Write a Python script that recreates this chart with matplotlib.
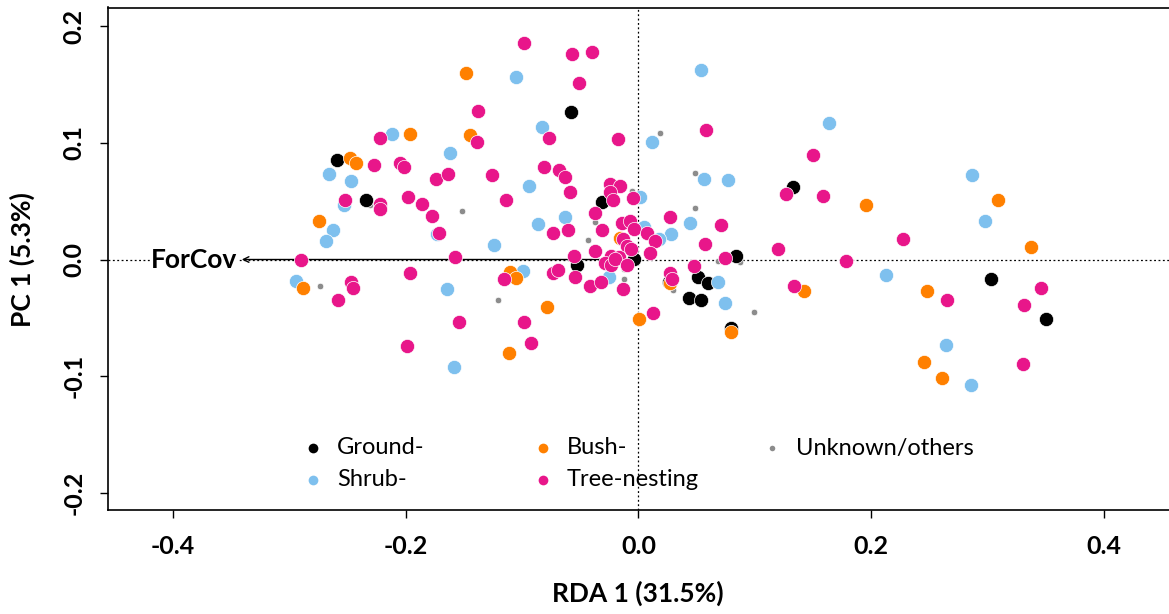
import matplotlib as mpl
mpl.use("Agg")
import matplotlib.pyplot as plt

mpl.rcParams.update({"font.family": ["Lato", "DejaVu Sans"], "font.size": 15})

# site scores on RDA 1 / PC 1, one pair of lists per nesting guild
ground_x = [-0.2595, -0.234, -0.0576, -0.0316, -0.0528, -0.004, 0.0834, 0.1325,
            0.0265, 0.051, 0.06, 0.0433, 0.0536, 0.0798, 0.3028, 0.3507]
ground_y = [0.0857, 0.0506, 0.1266, 0.0497, -0.0046, 0.0006, 0.0026, 0.062,
            -0.0195, -0.0146, -0.02, -0.0326, -0.0343, -0.0585, -0.0166, -0.0511]

shrub_x = [-0.266, -0.247, -0.253, -0.2627, -0.2687, -0.2942, -0.2116, -0.1052, -0.0829,
           -0.1617, -0.0938, 0.0011, -0.1732, -0.0866, -0.0628, -0.1239, 0.0046, -0.0989,
           -0.0252, -0.1649, -0.1583, 0.0533, 0.0112, 0.1634, 0.0562, 0.0771, 0.0441,
           0.0281, 0.0175, 0.0686, 0.074, 0.2127, 0.2865, 0.2982, 0.2647, 0.2859]
shrub_y = [0.0731, 0.0677, 0.047, 0.0251, 0.016, -0.0183, 0.1074, 0.1565, 0.1137,
           0.0917, 0.0628, 0.054, 0.022, 0.0306, 0.0368, 0.0123, 0.0277, -0.01,
           -0.0152, -0.0254, -0.0925, 0.1625, 0.1011, 0.1174, 0.0694, 0.0683, 0.0311,
           0.022, 0.0177, -0.0197, -0.0371, -0.0137, 0.0723, 0.0331, -0.0731, -0.1077]

bush_x = [-0.2477, -0.2426, -0.2744, -0.2882, -0.1482, -0.1967, -0.1445, -0.1107, -0.1049,
          -0.0783, -0.1113, 0.0006, -0.0155, 0.027, 0.0791, 0.1422, 0.1953, 0.2477,
          0.2454, 0.2612, 0.3088, 0.3378]
bush_y = [0.0868, 0.0823, 0.0328, -0.0243, 0.1602, 0.1077, 0.1065, -0.0109, -0.0157,
          -0.0405, -0.0803, -0.0511, 0.0183, -0.0205, -0.0623, -0.0266, 0.0471, -0.0268,
          -0.088, -0.1014, 0.0514, 0.0106]

unknown_x = [-0.231, -0.2735, -0.1514, -0.0052, -0.0375, -0.0436, -0.1204, -0.0126,
             -0.0126, 0.0183, 0.0484, 0.0484, 0.0686, 0.0869, 0.0298, 0.0992]
unknown_y = [0.047, -0.0231, 0.0417, 0.0583, 0.032, 0.0171, -0.0343, -0.008,
             -0.0166, 0.1086, 0.074, 0.0443, -0.0014, -0.0023, -0.026, -0.0451]

tree_x = [-0.2271, -0.222, -0.2526, -0.2225, -0.222, -0.29, -0.2469, -0.2454, -0.2583,
          -0.098, -0.0568, -0.0398, -0.0508, -0.1382, -0.1388, -0.0766, -0.0175, -0.2053,
          -0.2019, -0.174, -0.1637, -0.1259, -0.0809, -0.0686, -0.0634, -0.0585, -0.0246,
          -0.0163, -0.0244, -0.0221, -0.0043, -0.1985, -0.1858, -0.1778, -0.1714, -0.1138,
          -0.0737, -0.0608, -0.0378, -0.0316, -0.0375, -0.1577, -0.0553, -0.014, -0.0075,
          -0.004, -0.0135, -0.0103, -0.0066, -0.0235, -0.0169, 0.0075, -0.1961, -0.1155,
          -0.0731, -0.0688, -0.0545, -0.029, -0.0235, -0.0198, -0.0097, -0.0413, -0.0321,
          -0.0129, -0.1542, -0.0983, -0.0926, -0.1993, 0.0123, 0.0146, 0.0095, 0.0576,
          0.15, 0.127, 0.1585, 0.0269, 0.0711, 0.057, 0.1196, 0.2271, 0.0746, 0.1783,
          0.0476, 0.0272, 0.0284, 0.1333, 0.2655, 0.3461, 0.3312, 0.3306]
tree_y = [0.0808, 0.104, 0.0508, 0.048, 0.0437, 0.0, -0.0194, -0.0246, -0.0343,
          0.1854, 0.1762, 0.1782, 0.1511, 0.1271, 0.1003, 0.104, 0.1031, 0.0831,
          0.0791, 0.0694, 0.0737, 0.0722, 0.0794, 0.0771, 0.0705, 0.058, 0.0645,
          0.0626, 0.0577, 0.0511, 0.0531, 0.0534, 0.048, 0.0374, 0.0231, 0.0514,
          0.0229, 0.0251, 0.0397, 0.0257, 0.0071, 0.002, 0.0034, 0.0317, 0.0331,
          0.0263, 0.0177, 0.012, 0.0092, 0.0034, 0.002, 0.0229, -0.0114, -0.0169,
          -0.0117, -0.0089, -0.0149, -0.0029, -0.0051, 0.0006, -0.0051, -0.0223, -0.0191,
          -0.0257, -0.0534, -0.0534, -0.0717, -0.0743, -0.046, 0.0157, 0.0054, 0.1108,
          0.0894, 0.056, 0.0543, 0.0368, 0.0297, 0.0134, 0.0092, 0.0173, 0.0015, -0.0009,
          -0.0057, -0.0114, -0.0163, -0.0228, -0.0351, -0.0243, -0.0386, -0.0894]

# environmental vector (biplot arrow)
forcov = (-0.341, 0.0)

COL = {"ground": "#000000", "shrub": "#7EC0EE", "bush": "#FF8000",
       "unknown": "#8C8C8C", "tree": "#E8168A"}

fig = plt.figure(figsize=(11.69, 6.14), dpi=100)
ax = fig.add_axes([108 / 1169, 1 - 510 / 614, 1 - 108 / 1169, (510 - 7.5) / 614])
ax.set_xlim(-0.456, 0.456)
ax.set_ylim(-0.2147, 0.216)

ax.axvline(0, color="black", lw=0.9, ls=(0, (1.5, 2)), zorder=1)
ax.axhline(0, color="black", lw=0.9, ls=(0, (1.5, 2)), zorder=1)
ax.annotate("", xy=forcov, xytext=(0, 0),
            arrowprops=dict(arrowstyle="->", lw=1.0, color="black",
                            shrinkA=0, shrinkB=0, mutation_scale=10), zorder=2)
ax.text(forcov[0] - 0.004, forcov[1], "ForCov", ha="right", va="center",
        fontsize=19, fontweight="bold",
        bbox=dict(facecolor="white", edgecolor="none", pad=0.5), zorder=2)

kw = dict(edgecolors="white", linewidths=0.5, zorder=3)
ax.scatter(unknown_x, unknown_y, s=22, c=COL["unknown"], **kw)
ax.scatter(ground_x, ground_y, s=105, c=COL["ground"], **kw)
ax.scatter(shrub_x, shrub_y, s=105, c=COL["shrub"], **kw)
ax.scatter(bush_x, bush_y, s=105, c=COL["bush"], **kw)
ax.scatter(tree_x, tree_y, s=105, c=COL["tree"], **kw)

# legend drawn by hand in two rows, three columns
entries = [("Ground-", "ground", 0, 0), ("Bush-", "bush", 1, 0), ("Unknown/others", "unknown", 2, 0),
           ("Shrub-", "shrub", 0, 1), ("Tree-nesting", "tree", 1, 1)]
col_x = [313, 543, 772]
row_y = [448, 480]
for label, key, c, r in entries:
    px, py = col_x[c], row_y[r]
    fx, fy = px / 1169, 1 - py / 614
    fig.lines.append(plt.Line2D([fx], [fy], transform=fig.transFigure, marker="o", ls="none",
                                ms=4 if key == "unknown" else 7, color=COL[key], mec="none"))
    fig.text((px + 24) / 1169, fy, label, ha="left", va="center", fontsize=17)

ax.spines["right"].set_visible(False)
for s in ["left", "bottom", "top"]:
    ax.spines[s].set_linewidth(1.2)
ax.set_xticks([-0.4, -0.2, 0.0, 0.2, 0.4])
ax.set_xticklabels(["-0.4", "-0.2", "0.0", "0.2", "0.4"], fontweight="bold", fontsize=18)
ax.set_yticks([-0.2, -0.1, 0.0, 0.1, 0.2])
ax.set_yticklabels(["-0.2", "-0.1", "0.0", "0.1", "0.2"], fontweight="bold", fontsize=18,
                   rotation=90, va="center")
ax.tick_params(axis="x", length=6, width=1, pad=12)
ax.tick_params(axis="y", length=6, width=1, pad=10)

fig.text(638 / 1169, 1 - 593 / 614, "RDA 1 (31.5%)", ha="center", va="center",
         fontsize=19, fontweight="bold")
fig.text(22 / 1169, 1 - 260 / 614, "PC 1 (5.3%)", ha="center", va="center",
         fontsize=19, fontweight="bold", rotation=90)

fig.savefig("out.png", dpi=100)
